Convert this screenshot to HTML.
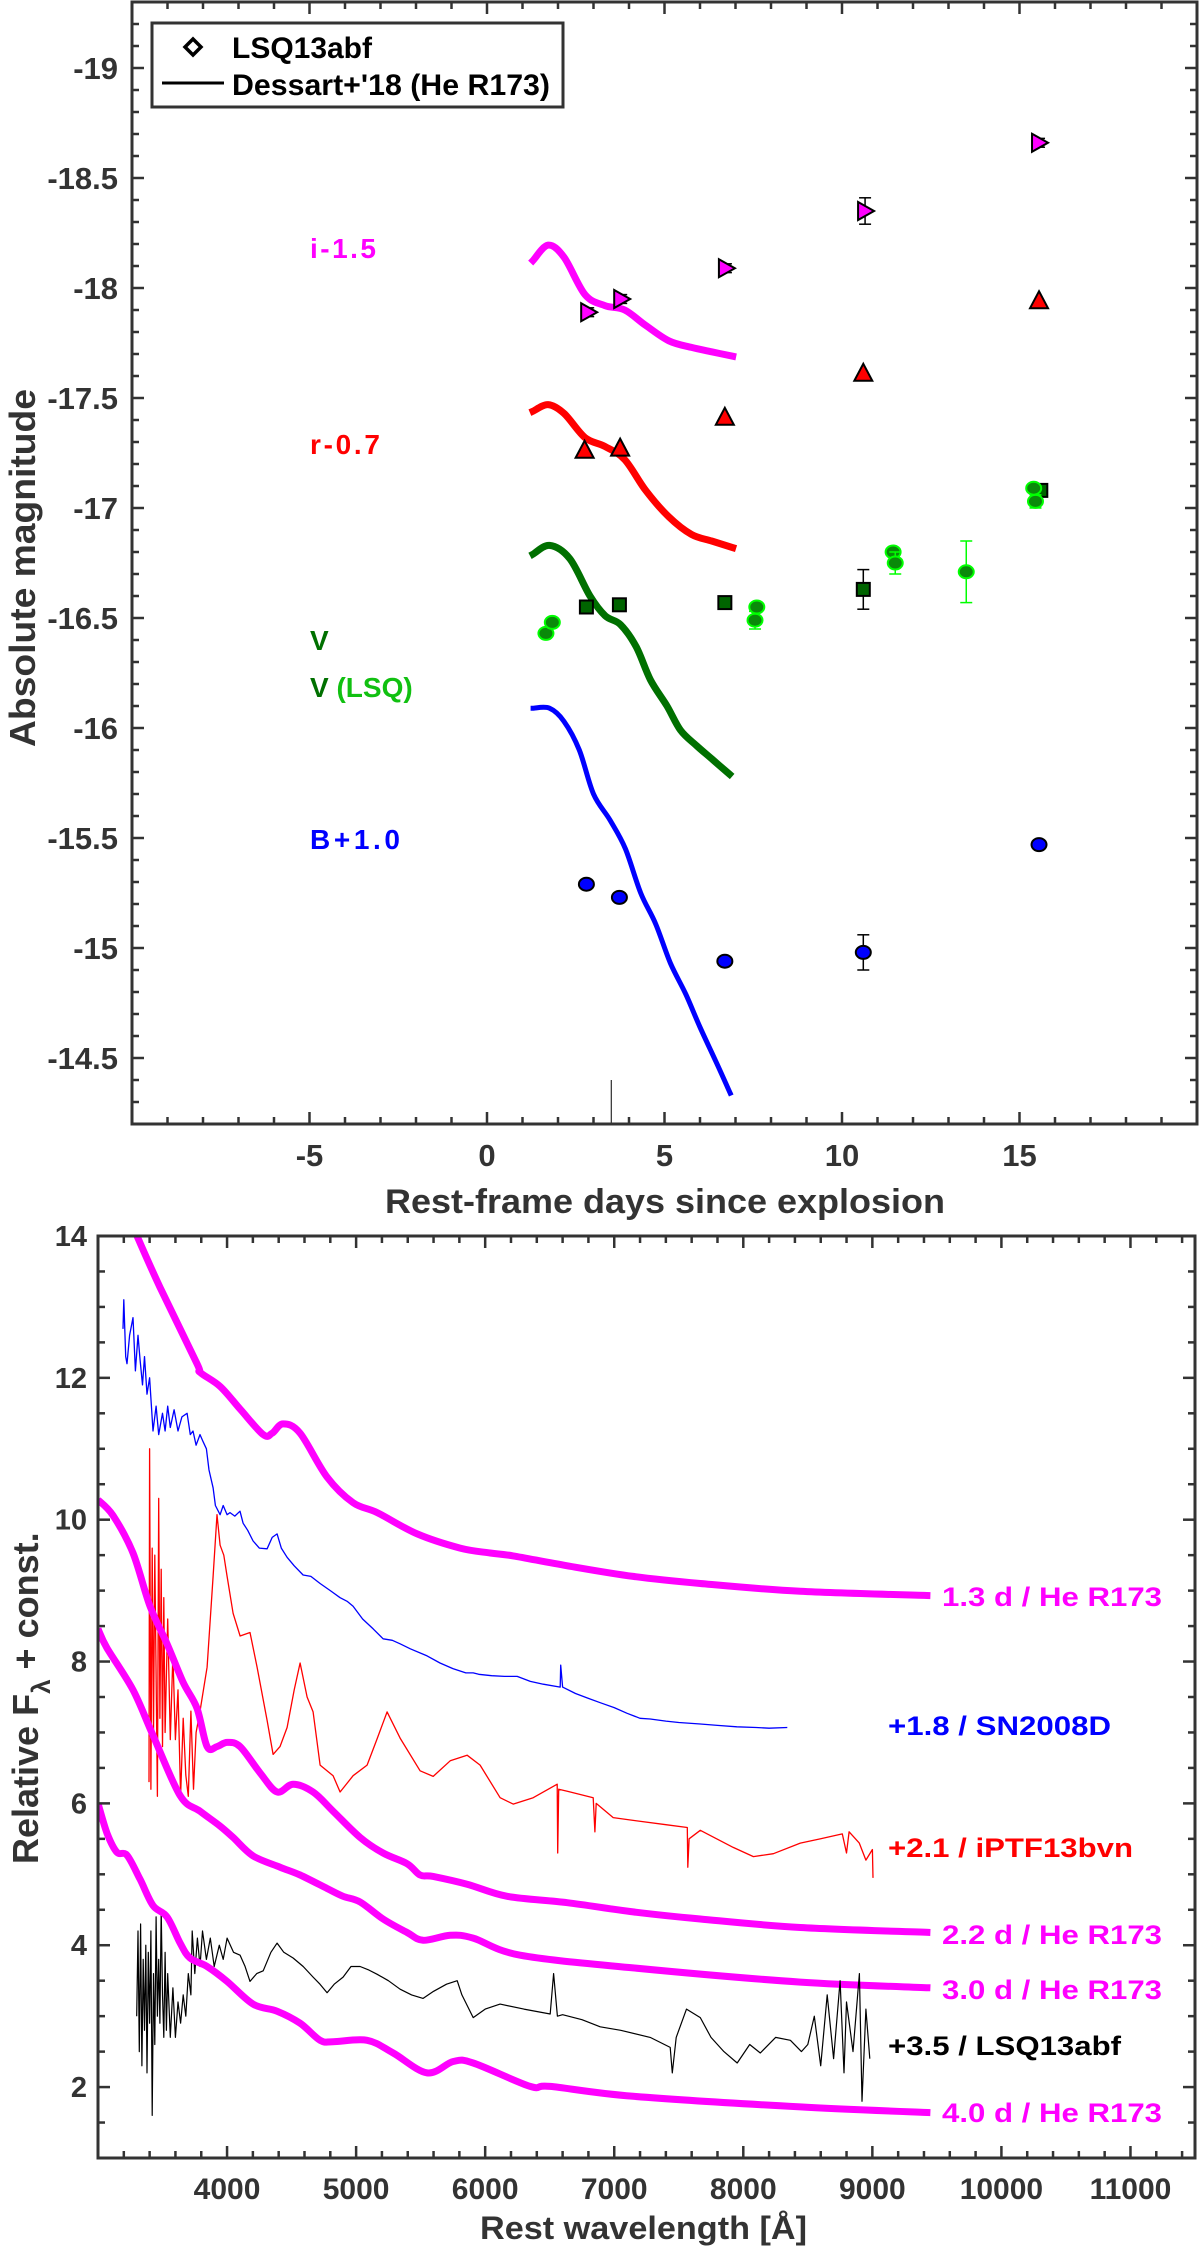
<!DOCTYPE html>
<html><head><meta charset="utf-8"><style>
html,body{margin:0;padding:0;background:#fff;}
svg{display:block;}
text{font-family:"Liberation Sans",sans-serif;}
</style></head><body>
<svg id="fig" width="1200" height="2249" viewBox="0 0 1200 2249" xmlns="http://www.w3.org/2000/svg">
<rect width="1200" height="2249" fill="#fff"/>
<g id="topPanel"></g>
<g id="botPanel"></g>
</svg>
<script>
// ===== Top panel data (light curves) =====
const iDays=[2.85,3.78,6.73,10.65,15.55];
const iMag=[-17.89,-17.95,-18.09,-18.35,-18.66];
const iErr=[0.02,0.02,0.02,0.06,0.02];
const rDays=[2.75,3.75,6.7,10.6,15.55];
const rMag=[-17.26,-17.27,-17.41,-17.61,-17.94];
const vDays=[2.8,3.73,6.7,10.6,15.6];
const vMag=[-16.55,-16.56,-16.57,-16.63,-17.08];
const vErr=[0.02,0.02,0.02,0.09,0.02];
const lsqDays=[1.66,1.84,7.55,7.6,11.44,11.5,13.5,15.4,15.45];
const lsqMag=[-16.43,-16.48,-16.49,-16.55,-16.8,-16.75,-16.71,-17.09,-17.03];
const lsqErr=[0.02,0.02,0.04,0.02,0.02,0.05,0.14,0.02,0.03];
const bDays=[2.8,3.73,6.7,10.6,15.55];
const bMag=[-15.29,-15.23,-14.94,-14.98,-15.47];
const bErr=[0.02,0.02,0.02,0.08,0.02];
const modDays=[1.3,1.72,2.17,2.76,3.32,3.88,4.47,5.12,5.76,6.33,6.92];
const modI=[-18.125,-18.195,-18.14,-17.97,-17.92,-17.9,-17.83,-17.76,-17.73,-17.71,-17.69];
const modR=[-17.44,-17.47,-17.43,-17.32,-17.28,-17.22,-17.08,-16.96,-16.88,-16.85,-16.82];
const modVDays=[1.3,1.76,2.33,2.9,3.33,3.76,4.2,4.6,5.07,5.45,5.9,6.33,6.83];
const modV=[-16.79,-16.83,-16.77,-16.6,-16.51,-16.47,-16.37,-16.22,-16.1,-15.99,-15.92,-15.86,-15.79];
const modBDays=[1.3,1.76,2.17,2.6,3.0,3.47,3.9,4.33,4.75,5.17,5.6,6.0,6.46,6.85];
const modB=[-16.09,-16.09,-16.03,-15.9,-15.7,-15.58,-15.45,-15.25,-15.11,-14.93,-14.79,-14.64,-14.48,-14.34];
const xTickVals=[-5,0,5,10,15];
const yTickVals=[-19,-18.5,-18,-17.5,-17,-16.5,-16,-15.5,-15,-14.5];
const yTickLabels=["-19","-18.5","-18","-17.5","-17","-16.5","-16","-15.5","-15","-14.5"];

// ===== Bottom panel data (spectra) =====
const m13L=[3302,3480,3767,3790,3946,4101,4280,4350,4434,4566,4775,4977,5163,5473,5806,6039,6217,6636,7147,7667,8442,9450];
const m13F=[14,13.28,12.2,12.08,11.88,11.56,11.2,11.22,11.35,11.22,10.6,10.24,10.1,9.8,9.6,9.53,9.49,9.35,9.2,9.1,8.99,8.93];
const m22L=[3000,3116,3271,3403,3535,3659,3767,3845,3922,4000,4101,4256,4388,4512,4667,4822,5031,5209,5395,5496,5597,5860,6171,6636,7147,7667,8442,9450];
const m22F=[10.28,10.06,9.53,8.78,8.25,7.71,7.34,6.8,6.8,6.86,6.8,6.43,6.16,6.27,6.16,5.89,5.52,5.3,5.15,4.99,4.97,4.86,4.69,4.6,4.47,4.37,4.25,4.18];
const m30L=[3000,3070,3271,3426,3636,3790,3946,4047,4202,4411,4566,4775,4899,5031,5209,5395,5519,5729,5907,6271,7147,8442,9450];
const m30F=[8.46,8.19,7.6,6.96,6.11,5.89,5.68,5.52,5.26,5.1,4.99,4.8,4.69,4.61,4.37,4.18,4.07,4.14,4.1,3.86,3.68,3.48,3.4];
const m40L=[3000,3070,3147,3225,3326,3426,3535,3636,3713,3845,4000,4202,4388,4566,4721,4822,5085,5287,5550,5752,5907,6349,6504,7147,8442,9450];
const m40F=[6.0,5.58,5.31,5.27,4.93,4.56,4.4,4.03,3.82,3.7,3.49,3.17,3.07,2.9,2.66,2.64,2.66,2.48,2.2,2.36,2.34,2.01,2.01,1.87,1.72,1.64];
const sn08L=[3194,3200,3215,3225,3245,3271,3290,3310,3326,3345,3360,3380,3400,3426,3450,3470,3500,3520,3540,3560,3590,3620,3650,3690,3715,3736,3760,3790,3814,3840,3860,3892,3910,3946,3970,4000,4023,4060,4100,4124,4160,4202,4250,4310,4350,4388,4420,4465,4520,4589,4650,4721,4800,4876,4930,4977,5050,5132,5209,5280,5341,5420,5550,5650,5750,5850,5907,5950,6050,6150,6248,6350,6450,6581,6585,6600,6700,6800,6891,7000,7100,7200,7279,7400,7500,7667,7800,7950,8100,8200,8341];
const sn08F=[12.69,13.1,12.3,12.2,12.6,12.85,12.1,12.6,12.25,11.9,12.3,11.77,12.0,11.25,11.6,11.2,11.5,11.25,11.6,11.3,11.55,11.25,11.45,11.5,11.2,11.25,11.05,11.2,11.1,11.0,10.7,10.45,10.2,10.07,10.2,10.07,10.1,10.05,10.12,9.95,9.85,9.7,9.6,9.59,9.75,9.8,9.6,9.47,9.35,9.22,9.2,9.1,9.0,8.9,8.85,8.78,8.6,8.46,8.32,8.3,8.25,8.18,8.08,7.98,7.9,7.84,7.84,7.82,7.8,7.79,7.79,7.72,7.68,7.64,7.95,7.64,7.55,7.48,7.42,7.35,7.27,7.2,7.19,7.16,7.14,7.12,7.1,7.08,7.07,7.06,7.07];
const ptfL=[3395,3400,3410,3420,3430,3440,3460,3470,3480,3490,3500,3510,3520,3540,3560,3580,3600,3620,3640,3660,3680,3700,3720,3740,3760,3790,3845,3892,3922,3946,3975,4000,4047,4101,4178,4233,4310,4357,4410,4465,4520,4566,4620,4667,4721,4822,4876,4977,5085,5160,5240,5341,5496,5597,5729,5860,5961,6116,6217,6372,6558,6562,6570,6636,6837,6850,6860,6992,7147,7400,7566,7570,7580,7667,7922,8078,8233,8442,8600,8767,8800,8820,8899,8950,9000,9005];
const ptfF=[6.3,11.0,6.2,9.6,7.0,9.5,6.1,10.3,7.2,9.3,6.8,8.9,7.0,8.6,6.9,8.1,6.9,7.6,6.1,7.2,6.4,6.1,7.3,6.2,7.0,7.3,7.92,9.2,10.07,9.64,9.5,9.2,8.68,8.36,8.41,7.92,7.17,6.69,6.8,7.07,7.6,7.98,7.5,7.29,6.54,6.39,6.16,6.39,6.54,6.9,7.29,6.92,6.46,6.38,6.6,6.68,6.54,6.08,5.99,6.08,6.27,5.3,6.2,6.17,6.08,5.6,6.0,5.8,5.76,5.7,5.66,5.1,5.5,5.62,5.38,5.25,5.29,5.44,5.5,5.57,5.3,5.6,5.44,5.2,5.35,4.95];
const lsqL=[3300,3310,3320,3330,3340,3350,3360,3370,3380,3390,3400,3410,3420,3430,3440,3450,3460,3470,3480,3490,3500,3510,3520,3530,3540,3560,3580,3600,3620,3640,3660,3680,3700,3720,3730,3750,3770,3790,3810,3840,3870,3900,3940,3970,4000,4050,4101,4140,4178,4230,4280,4340,4388,4440,4512,4590,4667,4720,4775,4830,4899,4960,5031,5100,5163,5250,5341,5430,5519,5600,5700,5783,5820,5907,6000,6116,6300,6504,6530,6560,6600,6750,6891,7050,7279,7434,7450,7480,7560,7667,7750,7850,7953,8050,8132,8250,8365,8450,8500,8550,8600,8650,8700,8750,8780,8800,8850,8900,8920,8950,8980];
const lsqF=[3.0,4.2,2.5,4.3,2.3,3.8,2.8,4.0,2.2,3.9,2.9,4.2,1.6,3.6,2.6,4.4,3.0,3.8,2.9,4.5,3.3,2.7,3.9,2.8,3.6,2.7,3.4,2.7,3.2,2.9,3.3,3.0,3.6,3.3,4.2,3.6,4.1,3.7,4.2,3.8,4.1,3.7,4.0,3.8,4.1,3.9,3.86,3.7,3.49,3.6,3.64,3.9,4.03,3.9,3.82,3.7,3.55,3.45,3.33,3.45,3.55,3.7,3.7,3.65,3.59,3.5,3.38,3.3,3.25,3.35,3.45,3.5,3.3,2.98,3.1,3.17,3.1,3.03,3.6,3.0,3.02,2.95,2.85,2.8,2.7,2.56,2.2,2.7,3.1,2.98,2.7,2.5,2.34,2.6,2.48,2.7,2.66,2.5,2.6,3.0,2.3,3.3,2.4,3.5,2.2,3.2,2.5,3.6,1.8,3.1,2.4];
const botXTicks=[4000,5000,6000,7000,8000,9000,10000,11000];
const botYTicks=[2,4,6,8,10,12,14];

const NS="http://www.w3.org/2000/svg";
function mk(tag,attrs,parent){const e=document.createElementNS(NS,tag);for(const k in attrs)e.setAttribute(k,attrs[k]);parent.appendChild(e);return e;}
// Catmull-Rom smoothing through pixel points
function smoothPath(pts){if(pts.length<3)return pts.map((p,i)=>(i?'L':'M')+p[0]+' '+p[1]).join(' ');
 let d='M'+pts[0][0].toFixed(1)+' '+pts[0][1].toFixed(1);
 for(let i=0;i<pts.length-1;i++){const p0=pts[i-1]||pts[i],p1=pts[i],p2=pts[i+1],p3=pts[i+2]||p2;
  const c1=[p1[0]+(p2[0]-p0[0])/6,p1[1]+(p2[1]-p0[1])/6],c2=[p2[0]-(p3[0]-p1[0])/6,p2[1]-(p3[1]-p1[1])/6];
  d+=' C'+c1[0].toFixed(1)+' '+c1[1].toFixed(1)+' '+c2[0].toFixed(1)+' '+c2[1].toFixed(1)+' '+p2[0].toFixed(1)+' '+p2[1].toFixed(1);}
 return d;}
const topG=document.getElementById('topPanel');

const TX0=132,TX1=1197,TY0=2,TY1=1124;
const tx=d=>TX0+(d+10)*(TX1-TX0)/30;
const ty=m=>TY0+(m+19.3)*(TY1-TY0)/5.1;

const tt=mk('g',{},topG);


for(let d=-10;d<=20;d++){const maj=(d%5===0);const L=maj?12:7;const x=tx(d);
 mk('line',{x1:x,y1:TY1,x2:x,y2:TY1-L,stroke:'#333','stroke-width':2.5},tt);
 mk('line',{x1:x,y1:TY0,x2:x,y2:TY0+L,stroke:'#333','stroke-width':2.5},tt);}
for(let k=-193;k<=-142;k++){const m=k/10;const maj=(k%5===0);const L=maj?12:7;const y=ty(m);
 mk('line',{x1:TX0,y1:y,x2:TX0+L,y2:y,stroke:'#333','stroke-width':2.5},tt);
 mk('line',{x1:TX1,y1:y,x2:TX1-L,y2:y,stroke:'#333','stroke-width':2.5},tt);}
xTickVals.forEach(v=>{const t=mk('text',{x:tx(v),y:1166,'text-anchor':'middle','font-size':31,'font-weight':'bold',fill:'#333'},topG);t.textContent=String(v);
 
 });
yTickVals.forEach((v,i)=>{const t=mk('text',{x:118,y:ty(v)+11,'text-anchor':'end','font-size':31,'font-weight':'bold',fill:'#333'},topG);t.textContent=yTickLabels[i];
 
 });

function model(xs,ys,col,w,name){const pts=xs.map((v,i)=>[tx(v),ty(ys[i])]);
 const p=mk('path',{d:smoothPath(pts),fill:'none',stroke:col,'stroke-width':w,'stroke-linejoin':'round','stroke-linecap':'square'},topG);
 
 }
model(modDays,modI,'#ff00ff',7,'model-i');
model(modDays,modR,'#ff0000',7,'model-r');
model(modVDays,modV,'#007000',7,'model-v');
model(modBDays,modB,'#0000ff',5,'model-b');

const vl=mk('line',{x1:tx(3.5),y1:TY1-44,x2:tx(3.5),y2:TY1,stroke:'#000','stroke-width':1},topG);



function errbar(x,y1,y2,col){mk('line',{x1:x,y1:y1,x2:x,y2:y2,stroke:col,'stroke-width':1.5},topG);
 mk('line',{x1:x-6,y1:y1,x2:x+6,y2:y1,stroke:col,'stroke-width':1.5},topG);
 mk('line',{x1:x-6,y1:y2,x2:x+6,y2:y2,stroke:col,'stroke-width':1.5},topG);}
function marker(shape,x,y,fill,edge){let e;
 if(shape==='right')e=mk('polygon',{points:`${x-7},${y-9} ${x+9},${y} ${x-7},${y+9}`,fill:fill,stroke:edge,'stroke-width':2},topG);
 else if(shape==='up')e=mk('polygon',{points:`${x},${y-10} ${x+9},${y+7} ${x-9},${y+7}`,fill:fill,stroke:edge,'stroke-width':2},topG);
 else if(shape==='sq')e=mk('rect',{x:x-6.5,y:y-6.5,width:13,height:13,fill:fill,stroke:edge,'stroke-width':2},topG);
 else e=mk('ellipse',{cx:x,cy:y,rx:7.5,ry:6.5,fill:fill,stroke:edge,'stroke-width':2},topG);
 return e;}
iDays.forEach((d,i)=>{errbar(tx(d),ty(iMag[i]-iErr[i]),ty(iMag[i]+iErr[i]),'#000');
 const e=marker('right',tx(d),ty(iMag[i]),'#ff00ff','#000');
 
 });
rDays.forEach((d,i)=>{const e=marker('up',tx(d),ty(rMag[i]),'#ff0000','#000');
 
 });
vDays.forEach((d,i)=>{errbar(tx(d),ty(vMag[i]-vErr[i]),ty(vMag[i]+vErr[i]),'#000');
 const e=marker('sq',tx(d),ty(vMag[i]),'#006400','#000');
 
 });
lsqDays.forEach((d,i)=>{errbar(tx(d),ty(lsqMag[i]-lsqErr[i]),ty(lsqMag[i]+lsqErr[i]),'#00ff00');
 const e=marker('c',tx(d),ty(lsqMag[i]),'#0a8a0a','#00ff00');
 
 });
bDays.forEach((d,i)=>{errbar(tx(d),ty(bMag[i]-bErr[i]),ty(bMag[i]+bErr[i]),'#000');
 const e=marker('c',tx(d),ty(bMag[i]),'#0000ff','#000');
 
 });

const tf=mk('rect',{x:TX0,y:TY0,width:TX1-TX0,height:TY1-TY0,fill:'none',stroke:'#333','stroke-width':3},topG);


</script>
<script>
(function(){
const NS="http://www.w3.org/2000/svg";const tp=document.getElementById('topPanel');
function T(x,y,s,attrs,name){const t=document.createElementNS(NS,'text');t.setAttribute('x',x);t.setAttribute('y',y);for(const k in attrs)t.setAttribute(k,attrs[k]);t.textContent=s;tp.appendChild(t);
 
 return t;}
T(310,258,'i-1.5',{fill:'#ff00ff','font-size':28,'font-weight':'bold',textLength:66},'label-i');
T(310,454,'r-0.7',{fill:'#ff0000','font-size':28,'font-weight':'bold',textLength:70},'label-r');
T(310,650,'V',{fill:'#007000','font-size':28,'font-weight':'bold'},'label-v');
const lv=T(310,697,'V ',{fill:'#007000','font-size':28,'font-weight':'bold'},'label-v-lsq');
const ts=document.createElementNS(NS,'tspan');ts.setAttribute('fill','#11c011');ts.textContent='(LSQ)';lv.appendChild(ts);
T(310,849,'B+1.0',{fill:'#0000ff','font-size':28,'font-weight':'bold',textLength:90},'label-b');
const lg=document.createElementNS(NS,'g');tp.appendChild(lg);
lg.innerHTML='<rect x="152" y="23" width="411" height="84" fill="#fff" stroke="#333" stroke-width="3"/>'+
'<polygon points="193,39 201,47 193,55 185,47" fill="none" stroke="#000" stroke-width="3.5"/>'+
'<line x1="162" y1="83" x2="224" y2="83" stroke="#000" stroke-width="3"/>';
const l1=T(232,58,'LSQ13abf',{fill:'#000','font-size':30,'font-weight':'bold',textLength:140,lengthAdjust:'spacingAndGlyphs'},'legend-entry-lsq13abf');
const l2=T(232,95,"Dessart+'18 (He R173)",{fill:'#000','font-size':30,'font-weight':'bold',textLength:318,lengthAdjust:'spacingAndGlyphs'},'legend-entry-dessart-model');
lg.appendChild(l1);lg.appendChild(l2);
T(385,1213,'Rest-frame days since explosion',{fill:'#333','font-size':34,'font-weight':'bold',textLength:560,lengthAdjust:'spacingAndGlyphs'},'x-axis-title');
T(0,0,'Absolute magnitude',{fill:'#333','font-size':36,'font-weight':'bold',textLength:358,lengthAdjust:'spacingAndGlyphs',transform:'translate(35,747) rotate(-90)'},'y-axis-title');
})();
</script>
<script>
(function(){
const NS="http://www.w3.org/2000/svg";const bp=document.getElementById('botPanel');
function mk2(tag,attrs,parent){const e=document.createElementNS(NS,tag);for(const k in attrs)e.setAttribute(k,attrs[k]);parent.appendChild(e);return e;}
const BX0=98,BX1=1195,BY0=1236,BY1=2158;
const bx=l=>BX0+(l-3000)*(BX1-BX0)/8500;
const by=f=>BY0+(14-f)*(BY1-BY0)/13;
function pathD(xs,ys){return xs.map((v,i)=>(i?'L':'M')+bx(v).toFixed(1)+' '+by(ys[i]).toFixed(1)).join(' ');}
const cp=mk2('clipPath',{id:'bclip'},bp);mk2('rect',{x:BX0,y:BY0,width:BX1-BX0,height:BY1-BY0},cp);
const g=mk2('g',{'clip-path':'url(#bclip)'},bp);


function line(xs,ys,col,w,name,smooth){const d=smooth?smoothPath(xs.map((v,i)=>[bx(v),by(ys[i])])):pathD(xs,ys);
 const p=mk2('path',{d:d,fill:'none',stroke:col,'stroke-width':w,'stroke-linejoin':'round'},g);
 
 }
line(m13L,m13F,'#ff00ff',7,'model-spectrum-1.3d',true);
line(sn08L,sn08F,'#0000ff',1.3,'spectrum-sn2008d',false);
line(ptfL,ptfF,'#ff0000',1.3,'spectrum-iptf13bvn',false);
line(m22L,m22F,'#ff00ff',7,'model-spectrum-2.2d',true);
line(m30L,m30F,'#ff00ff',7,'model-spectrum-3.0d',true);
line(lsqL,lsqF,'#000000',1.2,'spectrum-lsq13abf',false);
line(m40L,m40F,'#ff00ff',7,'model-spectrum-4.0d',true);
const tg=mk2('g',{},bp);


for(let l=3000;l<=11400;l+=200){const maj=(l%1000===0);const L=maj?12:7;const x=bx(l);
 mk2('line',{x1:x,y1:BY1,x2:x,y2:BY1-L,stroke:'#333','stroke-width':2.5},tg);
 mk2('line',{x1:x,y1:BY0,x2:x,y2:BY0+L,stroke:'#333','stroke-width':2.5},tg);}
for(let k=2;k<=28;k++){const f=k/2;const maj=(k%4===0);const L=maj?12:7;const y=by(f);
 mk2('line',{x1:BX0,y1:y,x2:BX0+L,y2:y,stroke:'#333','stroke-width':2.5},tg);
 mk2('line',{x1:BX1,y1:y,x2:BX1-L,y2:y,stroke:'#333','stroke-width':2.5},tg);}
botXTicks.forEach(v=>{const t=mk2('text',{x:bx(v),y:2199,'text-anchor':'middle','font-size':30,'font-weight':'bold',fill:'#333'},bp);t.textContent=String(v);
 
 });
botYTicks.forEach(v=>{const t=mk2('text',{x:87,y:by(v)+10,'text-anchor':'end','font-size':29,'font-weight':'bold',fill:'#333'},bp);t.textContent=String(v);
 
 });
const fr=mk2('rect',{x:BX0,y:BY0,width:BX1-BX0,height:BY1-BY0,fill:'none',stroke:'#333','stroke-width':3},bp);


function T(x,y,s,attrs,name){const t=mk2('text',Object.assign({x:x,y:y},attrs),bp);t.textContent=s;
 
 return t;}
const lab={'font-size':27,'font-weight':'bold',lengthAdjust:'spacingAndGlyphs'};
T(942,1606,'1.3 d / He R173',Object.assign({fill:'#ff00ff',textLength:220},lab),'label-model-1.3d');
T(888,1735,'+1.8 / SN2008D',Object.assign({fill:'#0000ff',textLength:223},lab),'label-sn2008d');
T(888,1857,'+2.1 / iPTF13bvn',Object.assign({fill:'#ff0000',textLength:245},lab),'label-iptf13bvn');
T(942,1944,'2.2 d / He R173',Object.assign({fill:'#ff00ff',textLength:220},lab),'label-model-2.2d');
T(942,1999,'3.0 d / He R173',Object.assign({fill:'#ff00ff',textLength:220},lab),'label-model-3.0d');
T(888,2055,'+3.5 / LSQ13abf',Object.assign({fill:'#000',textLength:233},lab),'label-lsq13abf');
T(942,2122,'4.0 d / He R173',Object.assign({fill:'#ff00ff',textLength:220},lab),'label-model-4.0d');
T(480,2239,'Rest wavelength [Å]',{fill:'#333','font-size':32,'font-weight':'bold',textLength:327,lengthAdjust:'spacingAndGlyphs'},'x-axis-title');
const yt=T(0,0,'Relative F',{fill:'#333','font-size':36,'font-weight':'bold',transform:'translate(38,1864) rotate(-90)'},'y-axis-title');
const s1=document.createElementNS(NS,'tspan');s1.setAttribute('font-size','26');s1.setAttribute('dy','12');s1.textContent='λ';yt.appendChild(s1);
const s2=document.createElementNS(NS,'tspan');s2.setAttribute('dy','-12');s2.textContent=' + const.';yt.appendChild(s2);
})();
</script>
</body></html>
